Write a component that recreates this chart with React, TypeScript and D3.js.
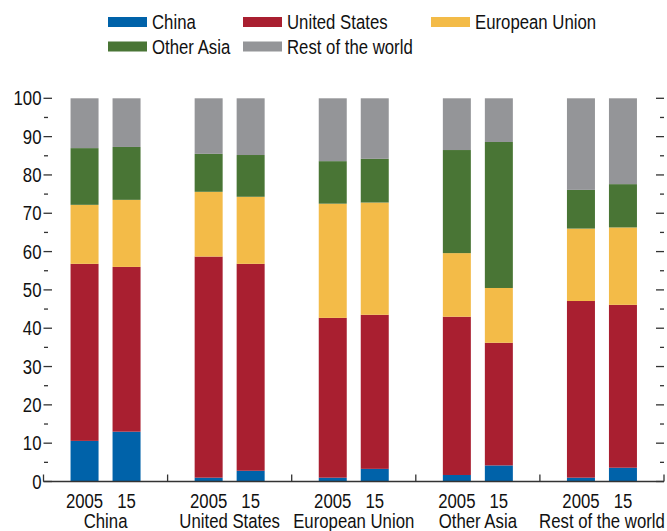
import React from "react";
import * as d3 from "d3";

const categories = ["China", "United States", "European Union", "Other Asia", "Rest of the world"];
const years = ["2005", "15"];
const seriesNames = ["China", "United States", "European Union", "Other Asia", "Rest of the world"];
const seriesColors = ["#0062A9", "#A91F30", "#F3BB48", "#497535", "#949598"];

// values ordered as category x year: China 2005, China 15, US 2005, US 15, ...
const chinaShare = [10.6, 13.0, 1.0, 2.8, 1.0, 3.3, 1.7, 4.2, 1.0, 3.6];
const usShare = [46.2, 43.0, 57.7, 54.0, 41.7, 40.2, 41.3, 32.0, 46.1, 42.5];
const euShare = [15.4, 17.5, 16.9, 17.5, 29.8, 29.3, 16.6, 14.3, 18.9, 20.2];
const otherAsiaShare = [14.8, 13.8, 9.9, 10.9, 11.1, 11.4, 26.9, 38.1, 10.1, 11.3];
const restShare = [13.0, 12.7, 14.5, 14.8, 16.4, 15.8, 13.5, 11.4, 23.9, 22.4];

const yMajorTicks = [0, 10, 20, 30, 40, 50, 60, 70, 80, 90, 100];
const yMinorTicks = [5, 15, 25, 35, 45, 55, 65, 75, 85, 95];

const FONT = "'Liberation Sans', Arial, sans-serif";
const SX = 0.86;

function CText({ x, y, anchor = "start", size = 19.5, children }: any) {
  return (
    <text
      transform={`translate(${x},${y}) scale(${SX},1)`}
      textAnchor={anchor}
      fontFamily={FONT}
      fontSize={size}
      fill="#111"
    >
      {children}
    </text>
  );
}

export default function App() {
  const W = 667;
  const H = 531;
  const x0 = 43.5;
  const x1 = 664;
  const yBase = 481.5;
  const yTop = 98.3;

  const y = d3.scaleLinear().domain([0, 100]).range([yBase, yTop]);
  const xGroup = d3.scaleBand<string>().domain(categories).range([x0, x1]).padding(0);
  const gw = xGroup.bandwidth();
  const xYear = d3
    .scaleBand<string>()
    .domain(years)
    .range([gw / 2 - 35, gw / 2 + 35])
    .paddingInner(1 / 3)
    .paddingOuter(0);

  const allSeries = [chinaShare, usShare, euShare, otherAsiaShare, restShare];
  const rows: any[] = [];
  categories.forEach((c, ci) => {
    years.forEach((yr, yi) => {
      const idx = ci * years.length + yi;
      const r: any = { cat: c, year: yr };
      seriesNames.forEach((s, si) => {
        r[s] = allSeries[si][idx];
      });
      rows.push(r);
    });
  });
  const stacked = d3.stack<any>().keys(seriesNames)(rows);

  const legendCols = [108, 243, 431];
  const legendRows = [22, 46.5];
  const legendPos = [
    [0, 0],
    [1, 0],
    [2, 0],
    [0, 1],
    [1, 1],
  ];

  const axisColor = "#333";

  return (
    <svg
      width={W}
      height={H}
      style={{ position: "absolute", left: 0, top: 0, background: "#fff" }}
    >
      {/* legend */}
      {seriesNames.map((s, i) => {
        const [c, r] = legendPos[i];
        const lx = legendCols[c];
        const ly = legendRows[r];
        return (
          <g key={s}>
            <rect x={lx} y={ly - 5} width={39} height={10} fill={seriesColors[i]} />
            <CText x={lx + 44} y={ly + 7}>
              {s}
            </CText>
          </g>
        );
      })}

      {/* bars */}
      {stacked.map((layer, si) => (
        <g key={layer.key} fill={seriesColors[si]}>
          {layer.map((d: any, i: number) => {
            const gx = xGroup(d.data.cat)!;
            const bx = gx + xYear(d.data.year)!;
            return (
              <rect
                key={i}
                x={bx}
                y={y(d[1])}
                width={xYear.bandwidth()}
                height={y(d[0]) - y(d[1])}
              />
            );
          })}
        </g>
      ))}

      {/* left ticks and labels */}
      {yMajorTicks.map((t) => (
        <g key={"L" + t}>
          <line x1={x0} x2={x0 + 8.5} y1={y(t)} y2={y(t)} stroke={axisColor} strokeWidth={1.3} />
          <line x1={x1 - 8} x2={x1} y1={y(t)} y2={y(t)} stroke={axisColor} strokeWidth={1.3} />
          <CText x={41.5} y={y(t) + 7} anchor="end">
            {t}
          </CText>
        </g>
      ))}
      {yMinorTicks.map((t) => (
        <g key={"m" + t}>
          <line x1={x0 + 0.5} x2={x0 + 4.5} y1={y(t)} y2={y(t)} stroke={axisColor} strokeWidth={1.3} />
          <line x1={x1 - 4} x2={x1} y1={y(t)} y2={y(t)} stroke={axisColor} strokeWidth={1.3} />
        </g>
      ))}

      {/* baseline */}
      <line x1={x0} x2={x1} y1={yBase} y2={yBase} stroke={axisColor} strokeWidth={1.5} />
      {[...categories.map((c) => xGroup(c)!), x1].map((gx, i) => (
        <line key={"sep" + i} x1={gx} x2={gx} y1={yBase} y2={yBase - 7} stroke={axisColor} strokeWidth={1.3} />
      ))}

      {/* x labels */}
      {categories.map((c) => {
        const gx = xGroup(c)!;
        return (
          <g key={"xl" + c}>
            {years.map((yr) => (
              <CText key={yr} x={gx + xYear(yr)! + xYear.bandwidth() / 2} y={507.5} anchor="middle">
                {yr}
              </CText>
            ))}
            <CText x={gx + gw / 2} y={527.5} anchor="middle">
              {c}
            </CText>
          </g>
        );
      })}
    </svg>
  );
}
